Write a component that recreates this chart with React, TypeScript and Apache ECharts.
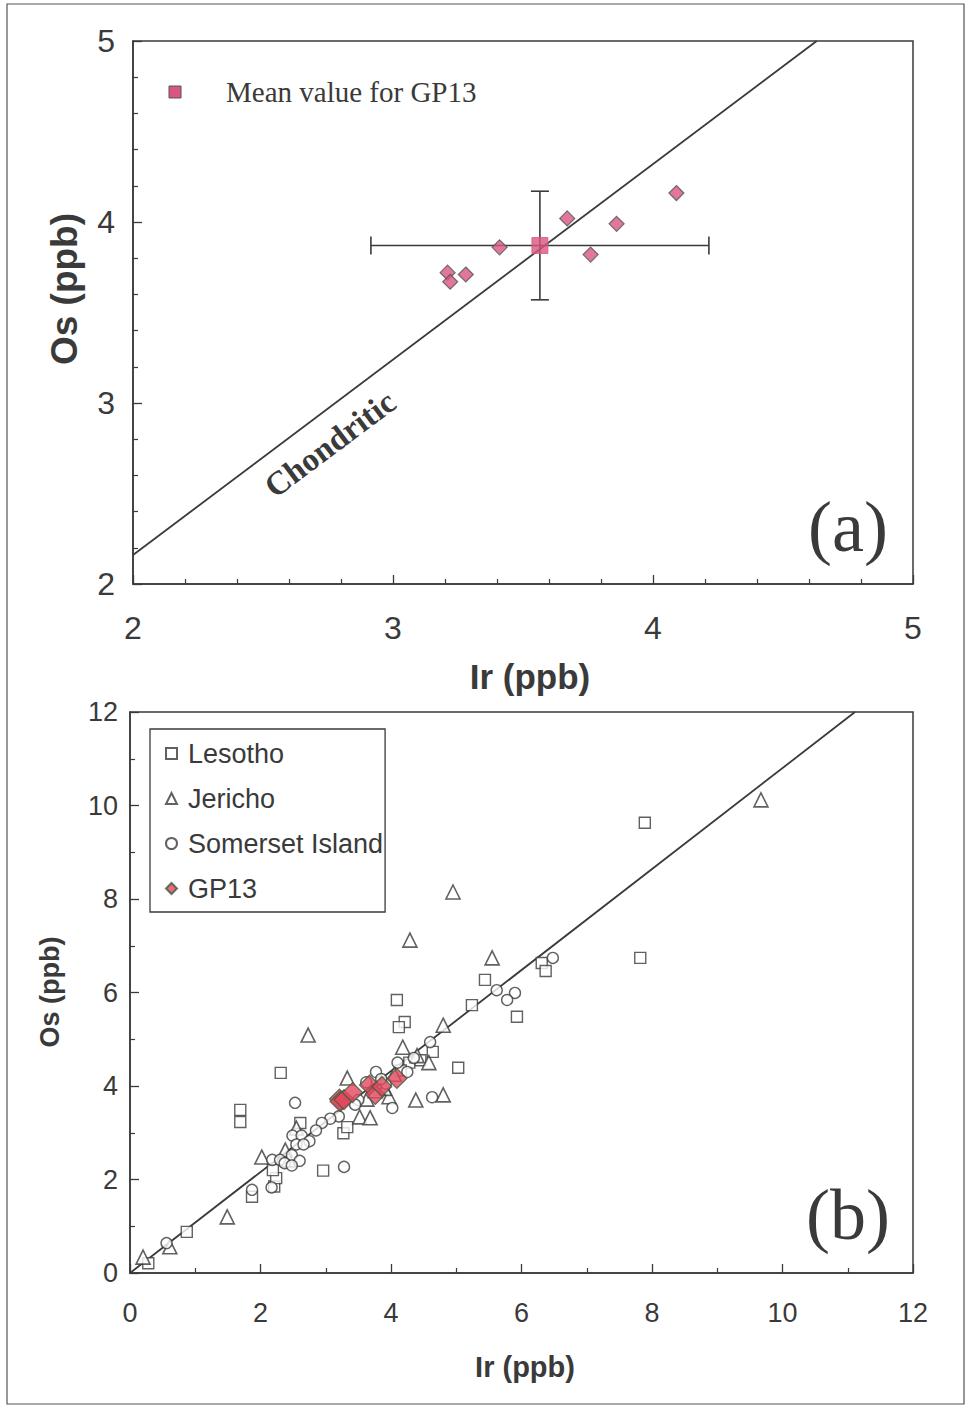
import React, { useEffect, useRef } from "react";
import * as echarts from "echarts";

// ---------- Data ----------
// Panel (a): GP13 individual analyses [Ir, Os] (ppb)
const gp13Points: number[][] = [
  [3.21, 3.72],
  [3.22, 3.67],
  [3.28, 3.71],
  [3.41, 3.86],
  [3.67, 4.02],
  [3.76, 3.82],
  [3.86, 3.99],
  [4.09, 4.16],
];
// Mean value for GP13 [Ir, Os, Ir error, Os error]
const gp13Mean: number[] = [3.565, 3.87, 0.65, 0.3];
// Chondritic Os/Ir ratio
const chondriticRatio = 1.08;

// Panel (b)
const lesotho: number[][] = [
  [7.89, 9.63], [7.82, 6.74], [6.31, 6.63], [6.37, 6.46], [5.93, 5.48],
  [5.24, 5.73], [5.44, 6.27], [4.09, 5.84], [4.21, 5.37], [4.12, 5.26],
  [5.03, 4.39], [4.64, 4.73], [4.45, 4.55], [4.28, 4.5], [2.31, 4.28],
  [1.69, 3.49], [1.69, 3.23], [2.61, 3.21], [3.27, 2.99], [2.96, 2.19],
  [2.21, 1.85], [2.24, 2.03], [2.19, 2.2], [1.87, 1.63], [0.87, 0.88],
  [0.28, 0.21], [3.33, 3.12], [3.82, 3.92], [4.15, 4.33],
];
const jericho: number[][] = [
  [9.67, 10.12], [4.95, 8.15], [4.29, 7.12], [5.55, 6.74], [2.73, 5.09],
  [4.8, 5.3], [4.18, 4.83], [4.4, 4.65], [4.58, 4.5], [4.38, 3.7],
  [4.8, 3.81], [3.33, 4.17], [3.63, 3.72], [3.97, 3.77], [3.52, 3.34],
  [3.68, 3.32], [2.55, 3.1], [2.38, 2.63], [2.02, 2.48], [2.43, 2.42],
  [1.49, 1.2], [0.61, 0.56], [0.2, 0.34], [3.9, 3.95], [3.76, 3.9],
  [4.05, 4.25],
];
const somerset: number[][] = [
  [6.48, 6.74], [5.62, 6.05], [5.9, 5.99], [5.78, 5.84], [4.6, 4.94],
  [4.63, 3.76], [4.02, 3.53], [2.53, 3.64], [3.28, 2.27], [4.1, 4.5],
  [3.77, 4.3], [3.2, 3.35], [3.07, 3.3], [2.94, 3.21], [2.49, 2.94],
  [2.63, 2.94], [2.75, 2.82], [2.55, 2.75], [2.66, 2.75], [2.48, 2.52],
  [2.6, 2.4], [2.18, 2.42], [2.3, 2.42], [2.37, 2.35], [2.48, 2.3],
  [2.17, 1.83], [1.87, 1.78], [0.56, 0.64], [3.5, 3.7], [3.92, 4.05],
  [3.62, 4.08], [4.25, 4.3], [3.45, 3.6], [3.85, 4.15], [4.35, 4.6],
  [2.85, 3.05],
];

const topXTicks = { min: 2, max: 5, interval: 1 };
const topYTicks = { min: 2, max: 5, interval: 1 };
const botXTicks = { min: 0, max: 12, interval: 2 };
const botYTicks = { min: 0, max: 12, interval: 2 };

// ---------- Styles ----------
const INK = "#3a3a3a";
const SANS = "'Liberation Sans', Arial, sans-serif";
const SERIF = "'Liberation Serif', 'Times New Roman', serif";
const PINK = "#d9567f";
const RED = "#e2475d";

export default function App() {
  const ref = useRef<HTMLDivElement>(null);

  useEffect(() => {
    if (!ref.current) return;
    const chart = echarts.init(ref.current, undefined, { renderer: "svg" });

    const axisCommon = (fontSize: number, margin: number, minorSplit: number) => ({
      type: "value",
      axisLine: { show: true, onZero: false, lineStyle: { color: INK, width: 1.5 } },
      axisTick: { show: true, inside: true, length: 9, lineStyle: { color: INK, width: 1.3 } },
      minorTick: { show: true, splitNumber: minorSplit, length: 5, lineStyle: { color: INK, width: 1.2 } },
      splitLine: { show: false },
      axisLabel: { color: INK, fontSize, fontFamily: SANS, margin },
    });

    const lineEnd = Math.min(topXTicks.max, topYTicks.max / chondriticRatio);
    const botLineEnd = Math.min(botXTicks.max, botYTicks.max / chondriticRatio);

    const option: any = {
      animation: false,
      backgroundColor: "#ffffff",
      grid: [
        { left: 133, top: 41, width: 780, height: 543, show: true, borderColor: INK, borderWidth: 1.5, backgroundColor: "transparent" },
        { left: 130, top: 712, width: 783, height: 561, show: true, borderColor: INK, borderWidth: 1.5, backgroundColor: "transparent" },
      ],
      xAxis: [
        { ...axisCommon(32, 28, 5), gridIndex: 0, ...topXTicks },
        { ...axisCommon(27, 26, 2), gridIndex: 1, ...botXTicks },
      ],
      yAxis: [
        { ...axisCommon(32, 18, 5), gridIndex: 0, ...topYTicks },
        { ...axisCommon(27, 12, 2), gridIndex: 1, ...botYTicks },
      ],
      legend: [
        {
          data: ["Lesotho", "Jericho", "Somerset Island", "GP13"],
          orient: "vertical",
          left: 150,
          top: 729,
          padding: [11, 2, 10, 15],
          itemGap: 18,
          itemWidth: 11,
          itemHeight: 11,
          borderColor: INK,
          borderWidth: 1.3,
          backgroundColor: "#fff",
          textStyle: { fontSize: 27, color: INK, fontFamily: SANS, padding: [0, 0, 0, 6] },
        },
      ],
      graphic: [
        {
          type: "rect",
          shape: { x: 7, y: 4, width: 957, height: 1400 },
          style: { fill: "none", stroke: "#555", lineWidth: 1.2 },
          silent: true,
        },
        // top legend
        {
          type: "rect",
          shape: { x: 169, y: 86, width: 12, height: 12 },
          style: { fill: PINK, stroke: "#555", lineWidth: 1 },
        },
        {
          type: "text",
          x: 226,
          y: 92,
          style: { text: "Mean value for GP13", font: "29px " + SERIF, fill: INK, textVerticalAlign: "middle" },
        },
        {
          type: "text",
          x: 330,
          y: 444,
          rotation: (36.9 * Math.PI) / 180,
          style: {
            text: "Chondritic",
            font: "bold 33px " + SERIF,
            fill: INK,
            textAlign: "center",
            textVerticalAlign: "middle",
          },
        },
        {
          type: "text",
          x: 848,
          y: 527,
          style: { text: "(a)", font: "72px " + SERIF, fill: INK, textAlign: "center", textVerticalAlign: "middle" },
        },
        {
          type: "text",
          x: 848,
          y: 1215,
          style: { text: "(b)", font: "72px " + SERIF, fill: INK, textAlign: "center", textVerticalAlign: "middle" },
        },
        {
          type: "text",
          x: 530,
          y: 676,
          style: { text: "Ir (ppb)", font: "bold 35px " + SANS, fill: INK, textAlign: "center", textVerticalAlign: "middle" },
        },
        {
          type: "text",
          x: 64,
          y: 289,
          rotation: Math.PI / 2,
          style: { text: "Os (ppb)", font: "bold 37px " + SANS, fill: INK, textAlign: "center", textVerticalAlign: "middle" },
        },
        {
          type: "text",
          x: 525,
          y: 1367,
          style: { text: "Ir (ppb)", font: "bold 29px " + SANS, fill: INK, textAlign: "center", textVerticalAlign: "middle" },
        },
        {
          type: "text",
          x: 50,
          y: 992,
          rotation: Math.PI / 2,
          style: { text: "Os (ppb)", font: "bold 27px " + SANS, fill: INK, textAlign: "center", textVerticalAlign: "middle" },
        },
      ],
      series: [
        // ----- Panel (a)
        {
          name: "Chondritic",
          type: "line",
          xAxisIndex: 0,
          yAxisIndex: 0,
          showSymbol: false,
          symbol: "none",
          clip: true,
          lineStyle: { color: INK, width: 1.8 },
          data: [
            [topXTicks.min, topXTicks.min * chondriticRatio],
            [lineEnd, lineEnd * chondriticRatio],
          ],
          z: 2,
        },
        {
          name: "errorbars",
          type: "custom",
          xAxisIndex: 0,
          yAxisIndex: 0,
          data: [gp13Mean],
          renderItem: (params: any, api: any) => {
            const x = api.value(0), y = api.value(1), ex = api.value(2), ey = api.value(3);
            const l = api.coord([x - ex, y]);
            const r = api.coord([x + ex, y]);
            const t = api.coord([x, y + ey]);
            const b = api.coord([x, y - ey]);
            const cap = 9;
            const st = { stroke: INK, lineWidth: 1.6 };
            return {
              type: "group",
              children: [
                { type: "line", shape: { x1: l[0], y1: l[1], x2: r[0], y2: r[1] }, style: st },
                { type: "line", shape: { x1: l[0], y1: l[1] - cap, x2: l[0], y2: l[1] + cap }, style: st },
                { type: "line", shape: { x1: r[0], y1: r[1] - cap, x2: r[0], y2: r[1] + cap }, style: st },
                { type: "line", shape: { x1: t[0], y1: t[1], x2: b[0], y2: b[1] }, style: st },
                { type: "line", shape: { x1: t[0] - cap, y1: t[1], x2: t[0] + cap, y2: t[1] }, style: st },
                { type: "line", shape: { x1: b[0] - cap, y1: b[1], x2: b[0] + cap, y2: b[1] }, style: st },
              ],
            };
          },
          z: 3,
        },
        {
          name: "GP13 analyses",
          type: "scatter",
          xAxisIndex: 0,
          yAxisIndex: 0,
          symbol: "diamond",
          symbolSize: 15,
          itemStyle: { color: PINK, borderColor: "#555", borderWidth: 1.2 },
          data: gp13Points,
          z: 4,
        },
        {
          name: "Mean value for GP13",
          type: "scatter",
          xAxisIndex: 0,
          yAxisIndex: 0,
          symbol: "rect",
          symbolSize: 16,
          itemStyle: { color: PINK, borderColor: PINK, borderWidth: 1 },
          data: [[gp13Mean[0], gp13Mean[1]]],
          z: 5,
        },
        // ----- Panel (b)
        {
          name: "Chondritic (b)",
          type: "line",
          xAxisIndex: 1,
          yAxisIndex: 1,
          showSymbol: false,
          symbol: "none",
          lineStyle: { color: INK, width: 1.8 },
          data: [
            [0, 0],
            [botLineEnd, botLineEnd * chondriticRatio],
          ],
          z: 2,
        },
        {
          name: "Lesotho",
          type: "scatter",
          xAxisIndex: 1,
          yAxisIndex: 1,
          symbol: "rect",
          symbolSize: 11,
          itemStyle: { color: "#fff", borderColor: INK, borderWidth: 1.4 },
          data: lesotho,
          z: 3,
        },
        {
          name: "Jericho",
          type: "scatter",
          xAxisIndex: 1,
          yAxisIndex: 1,
          symbol: "triangle",
          symbolSize: 14,
          itemStyle: { color: "#fff", borderColor: INK, borderWidth: 1.6 },
          data: jericho,
          z: 3,
        },
        {
          name: "Somerset Island",
          type: "scatter",
          xAxisIndex: 1,
          yAxisIndex: 1,
          symbol: "circle",
          symbolSize: 11,
          itemStyle: { color: "#fff", borderColor: INK, borderWidth: 1.4 },
          data: somerset,
          z: 3,
        },
        {
          name: "GP13",
          type: "scatter",
          xAxisIndex: 1,
          yAxisIndex: 1,
          symbol: "diamond",
          symbolSize: 20,
          itemStyle: { color: RED, borderColor: "#3d5a3d", borderWidth: 1.2 },
          data: gp13Points,
          z: 4,
        },
      ],
    };

    chart.setOption(option);
    return () => chart.dispose();
  }, []);

  return (
    <div
      ref={ref}
      style={{ position: "fixed", left: 0, top: 0, width: 971, height: 1409, background: "#fff" }}
    />
  );
}
